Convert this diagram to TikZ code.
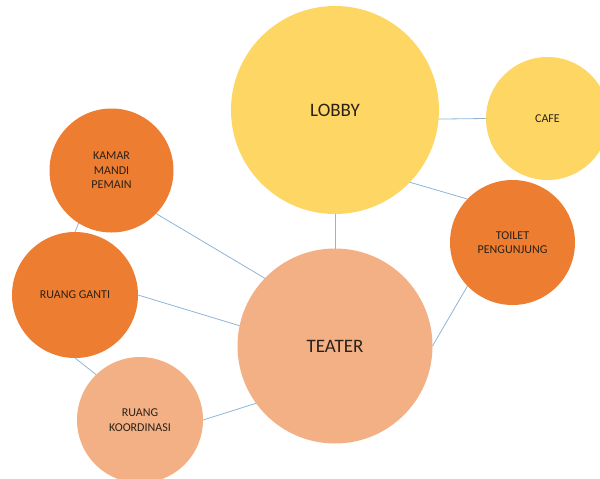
\documentclass[tikz,border=0pt]{standalone}
\usepackage{fontspec}
\setmainfont{Carlito}
\usepackage{xcolor}
\usetikzlibrary{positioning}
\definecolor{gold}{HTML}{FDD664}
\definecolor{orng}{HTML}{ED7D31}
\definecolor{salmon}{HTML}{F2B084}
\definecolor{link}{HTML}{8FB4D8}
\definecolor{ink}{HTML}{2B2118}

\begin{document}
\begin{tikzpicture}[x=1pt, y=-1pt,
  room/.style={circle, inner sep=0pt, outer sep=0pt, align=center, text=ink,
    font=\fontsize{12}{14.5}\selectfont},
  hub/.style={room, font=\fontsize{19}{22}\selectfont},
  conn/.style={draw=link, line width=0.8pt}]
\useasboundingbox (0,0) rectangle (600,479);
\clip (0,0) rectangle (600,479);
% public side
\node[hub, fill=gold, minimum size=208pt] (lobby) at (335,110) {LOBBY};
\node[room, fill=gold, minimum size=123pt] (cafe) at (547.5,118.5) {CAFE};
\node[room, fill=orng, minimum size=125pt] (toilet) at (512.5,242.5) {TOILET\\PENGUNJUNG};
% stage and back rooms
\node[hub, fill=salmon, minimum size=195pt] (teater) at (335,346) {TEATER};
\node[room, fill=orng, minimum size=124pt] (kmp) at (111.5,170.5) {KAMAR\\MANDI\\PEMAIN};
\node[room, fill=orng, minimum size=126pt] (rg) at (75,295) {RUANG GANTI};
\node[room, fill=salmon, minimum size=126pt] (rk) at (140,420) {RUANG\\KOORDINASI};
% links
\draw[conn] (lobby.-5) -- (cafe.180);
\draw[conn] (lobby.-44) -- (toilet.136);
\draw[conn] (lobby.-90) -- (teater.90);
\draw[conn] (toilet.224) -- (teater.0);
\draw[conn] (kmp.-44) -- (teater.136);
\draw[conn] (rg.0) -- (teater.168);
\draw[conn] (kmp.-122) -- (rg.90);
\draw[conn] (rg.-90) -- (rk.134);
\draw[conn] (rk.0) -- (teater.216);
\end{tikzpicture}
\end{document}
